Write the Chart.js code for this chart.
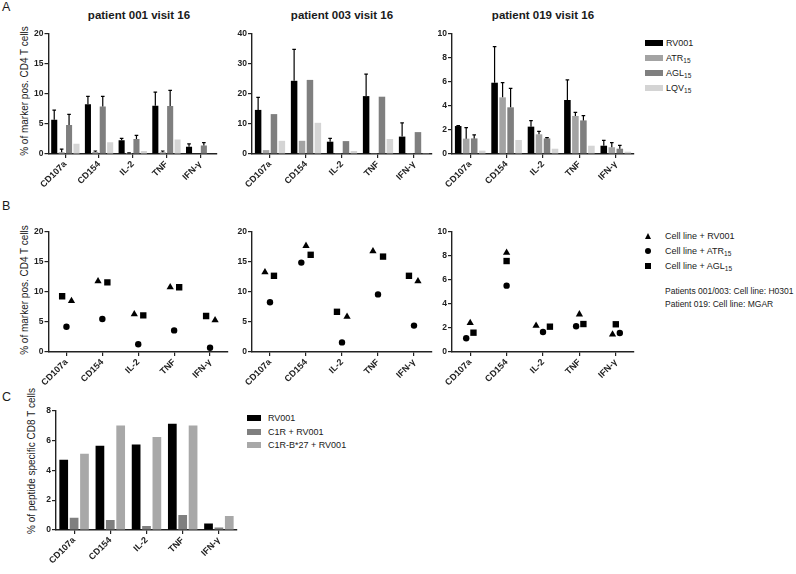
<!DOCTYPE html>
<html><head><meta charset="utf-8">
<script src="https://cdn.jsdelivr.net/npm/chart.js@4.4.1/dist/chart.umd.min.js"></script>
<style>
body{margin:0;background:#fff;width:796px;height:574px;overflow:hidden;position:relative;font-family:Arial,"Liberation Sans",sans-serif;color:#1a1a1a}
canvas{position:absolute;left:0;top:0}
.t{position:absolute;white-space:nowrap;line-height:1}
.c{transform:translate(-50%,-50%)}
.r{transform:translate(-50%,-50%) rotate(-90deg)}
.title{font-weight:bold;font-size:11.5px}
.yt{font-size:10px}
.lg{font-size:9px;transform:translateY(-50%)}
.lg sub{font-size:6.5px;vertical-align:-2px;line-height:0}
.sw{position:absolute;width:18px;height:6px;transform:translateY(-50%)}
.letter{font-size:12.5px}
</style></head><body>

<div class="t letter" style="left:2px;top:1px">A</div>
<div class="t letter" style="left:2px;top:200px">B</div>
<div class="t letter" style="left:2px;top:391px">C</div>

<div class="t title c" style="left:139px;top:16px">patient 001 visit 16</div>
<div class="t title c" style="left:342px;top:16px">patient 003 visit 16</div>
<div class="t title c" style="left:543px;top:16px">patient 019 visit 16</div>

<div class="t yt r" style="left:25px;top:91px">% of marker pos. CD4 T cells</div>
<div class="t yt r" style="left:25px;top:290px">% of marker pos. CD4 T cells</div>
<div class="t yt r" style="left:32px;top:461px">% of peptide specific CD8 T cells</div>

<!-- legend A -->
<div class="sw" style="left:645px;top:42.5px;background:#000"></div>
<div class="t lg" style="left:666px;top:42.5px">RV001</div>
<div class="sw" style="left:645px;top:57.5px;background:#a3a3a3"></div>
<div class="t lg" style="left:666px;top:57.5px">ATR<sub>15</sub></div>
<div class="sw" style="left:645px;top:72.5px;background:#7f7f7f"></div>
<div class="t lg" style="left:666px;top:72.5px">AGL<sub>15</sub></div>
<div class="sw" style="left:645px;top:87.5px;background:#d4d4d4"></div>
<div class="t lg" style="left:666px;top:87.5px">LQV<sub>15</sub></div>

<!-- legend B -->
<div style="position:absolute;left:644.5px;top:232.5px;width:0;height:0;border-left:3.5px solid transparent;border-right:3.5px solid transparent;border-bottom:6px solid #000"></div>
<div class="t lg" style="left:665px;top:236px">Cell line + RV001</div>
<div style="position:absolute;left:645px;top:248px;width:6px;height:6px;border-radius:50%;background:#000"></div>
<div class="t lg" style="left:665px;top:251px">Cell line + ATR<sub>15</sub></div>
<div style="position:absolute;left:645px;top:263px;width:6px;height:6px;background:#000"></div>
<div class="t lg" style="left:665px;top:266px">Cell line + AGL<sub>15</sub></div>
<div class="t lg" style="left:665px;top:291px;font-size:8.5px">Patients 001/003: Cell line: H0301</div>
<div class="t lg" style="left:665px;top:304px;font-size:8.5px">Patient 019: Cell line: MGAR</div>

<!-- legend C -->
<div class="sw" style="left:246.5px;top:418px;width:14px;background:#000"></div>
<div class="t lg" style="left:268px;top:418px">RV001</div>
<div class="sw" style="left:246.5px;top:431.5px;width:14px;background:#7f7f7f"></div>
<div class="t lg" style="left:268px;top:431.5px">C1R + RV001</div>
<div class="sw" style="left:246.5px;top:445px;width:14px;background:#a8a8a8"></div>
<div class="t lg" style="left:268px;top:445px">C1R-B*27 + RV001</div>

<script>
// ---- categories / tick labels ----
const categories = ['CD107a', 'CD154', 'IL-2', 'TNF', 'IFN-γ'];

// ---- Panel A: patient 001 (mean, upper SD) ----
const a1RV001 = [5.7, 8.3, 2.3, 8.05, 1.2];
const a1RV001Err = [1.6, 1.3, 0.3, 2.25, 0.5];
const a1ATR15 = [0.3, 0.35, 0.15, 0.3, 0.08];
const a1ATR15Err = [0.5, 0.15, 0.05, 0.2, 0];
const a1AGL15 = [4.85, 7.9, 2.5, 8.0, 1.4];
const a1AGL15Err = [1.75, 1.7, 0.6, 2.6, 0.5];
const a1LQV15 = [1.7, 1.95, 0.5, 2.4, 0.1];

// ---- Panel A: patient 003 ----
const a2RV001 = [14.7, 24.4, 4.1, 19.3, 5.8];
const a2RV001Err = [4.2, 10.5, 1.1, 7.3, 4.6];
const a2ATR15 = [1.3, 4.4, 0.3, 0.1, 0.3];
const a2AGL15 = [13.3, 24.7, 4.3, 19.1, 7.3];
const a2LQV15 = [4.4, 10.4, 1.0, 5.0, 0.1];

// ---- Panel A: patient 019 ----
const a3RV001 = [2.33, 5.94, 2.28, 4.5, 0.69];
const a3RV001Err = [0.03, 3.0, 0.5, 1.67, 0.45];
const a3ATR15 = [1.28, 4.72, 1.64, 3.17, 0.56];
const a3ATR15Err = [0.92, 1.22, 0.25, 0.3, 0.38];
const a3AGL15 = [1.3, 3.89, 1.3, 2.8, 0.44];
const a3AGL15Err = [0.3, 1.58, 0.06, 0.4, 0.28];
const a3LQV15 = [0.28, 1.17, 0.44, 0.69, 0.19];

// ---- Panel B: cell line stimulations ----
const b1RV001 = [8.5, 11.8, 6.3, 10.8, 5.3];
const b1ATR15 = [4.2, 5.5, 1.3, 3.6, 0.7];
const b1AGL15 = [9.3, 11.6, 6.1, 10.8, 6.0];
const b2RV001 = [13.3, 17.7, 5.9, 16.8, 11.8];
const b2ATR15 = [8.3, 14.9, 1.6, 9.6, 4.4];
const b2AGL15 = [12.7, 16.2, 6.7, 15.9, 12.7];
const b3RV001 = [2.42, 8.28, 2.19, 3.14, 1.47];
const b3ATR15 = [1.14, 5.53, 1.67, 2.14, 1.58];
const b3AGL15 = [1.61, 7.58, 2.11, 2.33, 2.31];
// horizontal jitter of overlapping symbols (fraction of a category)
const b1Jit = {tri: [0.14, -0.12, -0.11, -0.11, 0.14], circ: [0, 0, 0, 0, 0], sq: [-0.12, 0.14, 0.14, 0.14, -0.11]};
const b2Jit = {tri: [-0.14, 0, 0.14, -0.14, 0.11], circ: [0, -0.13, 0, 0, 0], sq: [0.11, 0.13, -0.14, 0.14, -0.14]};
const b3Jit = {tri: [0, 0, -0.19, 0, -0.09], circ: [-0.11, 0, 0, -0.09, 0.11], sq: [0.09, 0, 0.19, 0.11, 0]};

// ---- Panel C: CD8 ----
const cRV001 = [4.7, 5.64, 5.73, 7.11, 0.44];
const cC1R = [0.82, 0.67, 0.27, 1.0, 0.16];
const cC1RB27 = [5.1, 7.0, 6.22, 7.0, 0.93];

// ---- axis tick settings ----
const yTicksA = [{max: 20, step: 5}, {max: 40, step: 10}, {max: 10, step: 2}];
const yTicksB = [{max: 20, step: 5}, {max: 20, step: 5}, {max: 10, step: 2}];
const yTicksC = {max: 8, step: 2};

const W = 796, H = 574, YW = 40, XH = 60;
const INK = '#222';
const COL = {rv: '#000000', atr: '#a3a3a3', agl: '#7f7f7f', lqv: '#d4d4d4', c1r: '#7f7f7f', b27: '#a8a8a8'};

const errorBars = {
  id: 'errorBars',
  afterDatasetsDraw(chart) {
    const ctx = chart.ctx, ys = chart.scales.y;
    chart.data.datasets.forEach((ds, i) => {
      if (!ds.errors) return;
      const meta = chart.getDatasetMeta(i);
      meta.data.forEach((bar, j) => {
        const e = ds.errors[j];
        if (!e) return;
        const top = ys.getPixelForValue(ds.data[j] + e);
        ctx.save();
        ctx.strokeStyle = '#000';
        ctx.lineWidth = 1.2;
        ctx.beginPath();
        ctx.moveTo(bar.x, bar.y);
        ctx.lineTo(bar.x, top);
        ctx.moveTo(bar.x - 1.8, top);
        ctx.lineTo(bar.x + 1.8, top);
        ctx.stroke();
        ctx.restore();
      });
    });
  }
};

function fixY(s) { s.width = YW; s.paddingTop = 0; s.paddingBottom = 0; s.paddingLeft = 0; s.paddingRight = 0; }
function fixX(s) { s.height = XH; s.paddingTop = 0; s.paddingBottom = 0; s.paddingLeft = 0; s.paddingRight = 0; }

const yFont = {family: 'Arial, "Liberation Sans", sans-serif', size: 8.5, weight: 'bold'};
const xFont = {family: 'Arial, "Liberation Sans", sans-serif', size: 9, weight: 'bold'};
function axisStyle() {
  return {
    border: {display: true, color: INK, width: 1.4},
    grid: {display: true, drawOnChartArea: false, drawTicks: true, tickLength: 4, color: INK, lineWidth: 1.2, offset: false},
  };
}

function makeChart(area, type, datasets, yt, scatter) {
  const cv = document.createElement('canvas');
  cv.width = W; cv.height = H;
  cv.style.width = W + 'px'; cv.style.height = H + 'px';
  document.body.appendChild(cv);
  const xScale = Object.assign(axisStyle(), {
    ticks: {font: xFont, color: INK, maxRotation: 45, minRotation: 45, padding: 1, autoSkip: false},
    afterFit: fixX
  });
  if (scatter) {
    Object.assign(xScale, {
      type: 'linear', min: -0.5, max: 4.5,
      afterBuildTicks: s => { s.ticks = categories.map((_, i) => ({value: i})); }
    });
    xScale.ticks.callback = v => categories[Math.round(v)];
  } else {
    xScale.type = 'category';
    xScale.offset = true;
  }
  const yScale = Object.assign(axisStyle(), {
    type: 'linear', min: 0, max: yt.max,
    ticks: {stepSize: yt.step, font: yFont, color: INK, padding: 1},
    afterFit: fixY
  });
  return new Chart(cv, {
    type,
    data: {labels: categories, datasets},
    options: {
      responsive: false, animation: false,
      layout: {padding: {left: area.l - YW, right: W - area.r, top: area.t, bottom: H - area.b - XH}},
      plugins: {legend: {display: false}, tooltip: {enabled: false}},
      scales: {x: xScale, y: yScale}
    },
    plugins: [errorBars]
  });
}

function barDS(data, color, errors, catPct, barPct) {
  return {data, backgroundColor: color, borderWidth: 0, errors, categoryPercentage: catPct, barPercentage: barPct};
}
function ptDS(vals, jit, style, r) {
  return {data: vals.map((v, i) => ({x: i + jit[i], y: v})), pointStyle: style, pointRadius: r,
          backgroundColor: '#000', borderColor: '#000', borderWidth: 0, showLine: false};
}

const CP = 0.88, BP = 0.82;
// Panel A
makeChart({l: 48.5, r: 217, t: 34, b: 154}, 'bar', [
  barDS(a1RV001, COL.rv, a1RV001Err, CP, BP),
  barDS(a1ATR15, COL.atr, a1ATR15Err, CP, BP),
  barDS(a1AGL15, COL.agl, a1AGL15Err, CP, BP),
  barDS(a1LQV15, COL.lqv, null, CP, BP)], yTicksA[0]);
makeChart({l: 252, r: 432, t: 34, b: 154}, 'bar', [
  barDS(a2RV001, COL.rv, a2RV001Err, CP, BP),
  barDS(a2ATR15, COL.atr, null, CP, BP),
  barDS(a2AGL15, COL.agl, null, CP, BP),
  barDS(a2LQV15, COL.lqv, null, CP, BP)], yTicksA[1]);
makeChart({l: 452, r: 634, t: 34, b: 154}, 'bar', [
  barDS(a3RV001, COL.rv, a3RV001Err, CP, BP),
  barDS(a3ATR15, COL.atr, a3ATR15Err, CP, BP),
  barDS(a3AGL15, COL.agl, a3AGL15Err, CP, BP),
  barDS(a3LQV15, COL.lqv, null, CP, BP)], yTicksA[2]);

// Panel B
makeChart({l: 48.5, r: 228, t: 232, b: 352}, 'scatter', [
  ptDS(b1RV001, b1Jit.tri, 'triangle', 4.2),
  ptDS(b1ATR15, b1Jit.circ, 'circle', 3.2),
  ptDS(b1AGL15, b1Jit.sq, 'rect', 4.5)], yTicksB[0], true);
makeChart({l: 252, r: 432, t: 232, b: 352}, 'scatter', [
  ptDS(b2RV001, b2Jit.tri, 'triangle', 4.2),
  ptDS(b2ATR15, b2Jit.circ, 'circle', 3.2),
  ptDS(b2AGL15, b2Jit.sq, 'rect', 4.5)], yTicksB[1], true);
makeChart({l: 452, r: 634, t: 232, b: 352}, 'scatter', [
  ptDS(b3RV001, b3Jit.tri, 'triangle', 4.2),
  ptDS(b3ATR15, b3Jit.circ, 'circle', 3.2),
  ptDS(b3AGL15, b3Jit.sq, 'rect', 4.5)], yTicksB[2], true);

// Panel C
makeChart({l: 56, r: 237, t: 410.5, b: 530}, 'bar', [
  barDS(cRV001, COL.rv, null, 0.86, 0.84),
  barDS(cC1R, COL.c1r, null, 0.86, 0.84),
  barDS(cC1RB27, COL.b27, null, 0.86, 0.84)], yTicksC);
</script>
</body></html>
